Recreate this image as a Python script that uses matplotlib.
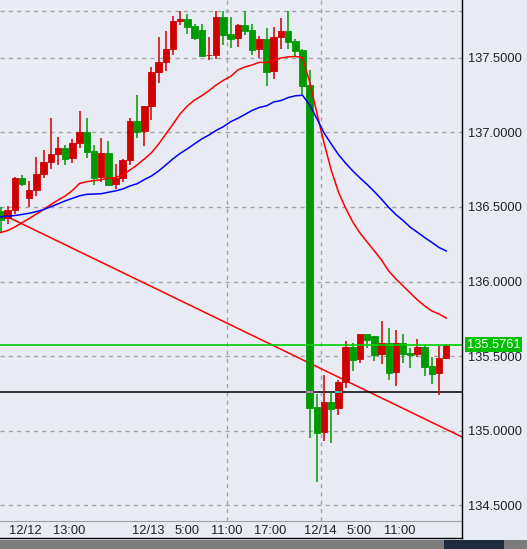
import numpy as np
import pandas as pd
import matplotlib
matplotlib.use('Agg')
import matplotlib.pyplot as plt
from matplotlib.lines import Line2D
from matplotlib.patches import Rectangle

plt.rcParams['font.family'] = ['Liberation Sans', 'DejaVu Sans']

# hourly candles, 12/12 - 12/14
opens = [136.475, 136.424, 136.480, 136.695, 136.560, 136.614, 136.722, 136.802, 136.856, 136.896,
         136.829, 136.930, 137.003, 136.876, 136.701, 136.862, 136.654, 136.695, 136.815, 137.077,
         137.010, 137.178, 137.406, 137.473, 137.560, 137.748, 137.762, 137.715, 137.688, 137.517,
         137.520, 137.775, 137.661, 137.634, 137.721, 137.688, 137.560, 137.628, 137.413, 137.641,
         137.681, 137.614, 137.554, 137.319, 135.158, 134.990, 135.191, 135.151, 135.326, 135.560,
         135.480, 135.648, 135.634, 135.513, 135.587, 135.393, 135.587, 135.520, 135.513, 135.560,
         135.433, 135.386, 135.487]
highs = [136.500, 136.507, 136.700, 136.715, 136.675, 136.836, 136.883, 137.097, 136.970, 136.916,
         136.956, 137.144, 137.097, 136.916, 136.963, 136.943, 136.789, 136.822, 137.097, 137.252,
         137.178, 137.440, 137.641, 137.681, 137.782, 137.815, 137.795, 137.728, 137.728, 137.641,
         137.815, 137.815, 137.775, 137.728, 137.815, 137.728, 137.648, 137.701, 137.708, 137.768,
         137.815, 137.628, 137.560, 137.419, 135.245, 135.372, 135.258, 135.339, 135.601, 135.587,
         135.648, 135.648, 135.634, 135.735, 135.688, 135.675, 135.648, 135.554, 135.614, 135.567,
         135.493, 135.567, 135.578]
lows = [136.334, 136.383, 136.450, 136.644, 136.500, 136.574, 136.695, 136.755, 136.782, 136.782,
        136.795, 136.896, 136.829, 136.648, 136.668, 136.641, 136.621, 136.668, 136.782, 136.963,
        136.909, 137.084, 137.332, 137.413, 137.520, 137.721, 137.661, 137.621, 137.513, 137.487,
        137.493, 137.587, 137.567, 137.574, 137.654, 137.520, 137.500, 137.312, 137.359, 137.560,
        137.560, 137.507, 137.252, 134.950, 134.654, 134.930, 134.916, 135.104, 135.285, 135.399,
        135.453, 135.554, 135.466, 135.446, 135.339, 135.299, 135.453, 135.419, 135.493, 135.366,
        135.312, 135.238, 135.480]
closes = [136.413, 136.480, 136.697, 136.654, 136.614, 136.722, 136.802, 136.856, 136.896, 136.822,
          136.930, 137.003, 136.869, 136.695, 136.862, 136.648, 136.695, 136.815, 137.077, 137.003,
          137.178, 137.406, 137.473, 137.560, 137.748, 137.762, 137.708, 137.634, 137.513, 137.520,
          137.775, 137.654, 137.628, 137.721, 137.681, 137.554, 137.628, 137.406, 137.641, 137.681,
          137.607, 137.547, 137.312, 135.151, 134.983, 135.191, 135.144, 135.326, 135.560, 135.473,
          135.648, 135.607, 135.507, 135.587, 135.386, 135.587, 135.513, 135.507, 135.560, 135.426,
          135.379, 135.487, 135.576]

# moving averages (red = fast, blue = slow)
ma_fast = [136.329, 136.342, 136.366, 136.395, 136.423, 136.453, 136.483, 136.517, 136.546, 136.574,
           136.611, 136.658, 136.670, 136.677, 136.683, 136.693, 136.698, 136.715, 136.748, 136.782,
           136.822, 136.864, 136.923, 136.990, 137.057, 137.126, 137.178, 137.218, 137.247, 137.281,
           137.319, 137.350, 137.376, 137.419, 137.440, 137.453, 137.471, 137.469, 137.480, 137.500,
           137.507, 137.510, 137.503, 137.339, 137.131, 136.930, 136.748, 136.601, 136.493, 136.399,
           136.326, 136.265, 136.205, 136.144, 136.070, 136.017, 135.970, 135.923, 135.876, 135.836,
           135.802, 135.782, 135.755]
ma_slow = [136.433, 136.438, 136.443, 136.450, 136.458, 136.469, 136.483, 136.502, 136.521, 136.541,
           136.558, 136.575, 136.585, 136.587, 136.589, 136.599, 136.608, 136.621, 136.641, 136.656,
           136.684, 136.708, 136.742, 136.782, 136.824, 136.860, 136.891, 136.924, 136.957, 136.983,
           137.014, 137.039, 137.072, 137.095, 137.121, 137.148, 137.168, 137.179, 137.205, 137.214,
           137.234, 137.246, 137.250, 137.185, 137.093, 136.997, 136.923, 136.852, 136.794, 136.742,
           136.695, 136.651, 136.603, 136.552, 136.497, 136.449, 136.409, 136.364, 136.330, 136.295,
           136.262, 136.228, 136.205]

time_ticks = [3.44, 9.6, 20.5, 25.9, 31.5, 37.5, 44.5, 49.9, 55.6]
time_labels = ['12/12', '13:00', '12/13', '5:00', '11:00', '17:00', '12/14', '5:00', '11:00']
vgrid = [31.5, 44.6]

price_ticks = [134.5, 135.0, 135.5, 136.0, 136.5, 137.0, 137.5]
top_line = 137.815
current_price = 135.5761
hline_price = 135.256
trend_x = [0, 62]
trend_y = [136.457, 135.008]

bg = '#e8ebf4'
red = '#d00000'
green = '#009a00'

df = pd.DataFrame({'open': opens, 'high': highs, 'low': lows, 'close': closes})
x = np.arange(len(df))
up = df['close'] >= df['open']
cols = np.where(up, red, green)

W, H = 527, 549
fig = plt.figure(figsize=(W / 100, H / 100), dpi=100, facecolor=bg)
ax = fig.add_axes([0, 28 / H, 462 / W, 521 / H], facecolor=bg)

# grid
for p in price_ticks + [top_line]:
    ax.axhline(p, color='#a4a4a4', lw=1, ls=(0, (3, 3)), zorder=1)
for v in vgrid:
    ax.axvline(v, color='#a4a4a4', lw=1, ls=(0, (3, 3)), zorder=1)

# trend line + horizontal line
ax.axline((trend_x[0], trend_y[0]), (trend_x[1], trend_y[1]), color='#ff0000', lw=1.1, zorder=2)
ax.axhline(hline_price, color='black', lw=1.1, zorder=2)

# candles
ax.vlines(x, df['low'], df['high'], colors=cols, lw=1.1, zorder=3)
body_lo = np.minimum(df['open'], df['close'])
body_h = np.abs(df['close'] - df['open'])
ax.bar(x, body_h, bottom=body_lo, width=0.9, color=cols, edgecolor=cols, lw=0.6, zorder=4)

# xor-looking bits where the black line crosses bodies
ax.hlines(hline_price, 43 - 0.47, 43 + 0.47, color='#ff66ff', lw=1.1, zorder=5)
ax.hlines(hline_price, 47 - 0.47, 47 + 0.47, color='#00ffff', lw=1.1, zorder=5)

# moving averages
ax.plot(x, ma_fast, color='#ff0000', lw=1.1, zorder=6)
ax.plot(x, ma_slow, color='#0000ff', lw=1.1, zorder=6)

# current price
ax.axhline(current_price, color='#00d000', lw=1.2, zorder=7)

ax.set_xlim(-0.07, 64.19)
ax.set_ylim(134.393, 137.889)

for s in ['left', 'top', 'right']:
    ax.spines[s].set_visible(False)
ax.spines['bottom'].set_color('#a0a0a0')

ax.yaxis.tick_right()
ax.set_yticks(price_ticks)
ax.set_yticklabels(['%.4f' % p for p in price_ticks])
ax.tick_params(axis='y', length=0, pad=4.5, labelsize=9.3, labelcolor='#222222')

ax.set_xticks(time_ticks)
ax.set_xticklabels(time_labels)
ax.tick_params(axis='x', length=0, pad=3, labelsize=9.3, labelcolor='#222222')

ax.text(1 + 5 / 462, current_price, '%.4f' % current_price, transform=ax.get_yaxis_transform(),
        ha='left', va='center', color='white', fontsize=9.3, zorder=10, clip_on=False,
        bbox=dict(boxstyle='square,pad=0.12', fc='#00c000', ec='none'))

# frame lines and bottom strip
fig.add_artist(Line2D([462 / W, 462 / W], [11 / H, 1], color='black', lw=1, transform=fig.transFigure))
fig.add_artist(Line2D([0, 462 / W], [11 / H, 11 / H], color='black', lw=1, transform=fig.transFigure))
fig.add_artist(Rectangle((0, 0), 1, 9 / H, transform=fig.transFigure, fc='#7c7c7c', ec='none'))
fig.add_artist(Rectangle((444 / W, 0), 60 / W, 9 / H, transform=fig.transFigure, fc='#1d2b3c', ec='none'))

fig.savefig('out.png', dpi=100, facecolor=bg)
